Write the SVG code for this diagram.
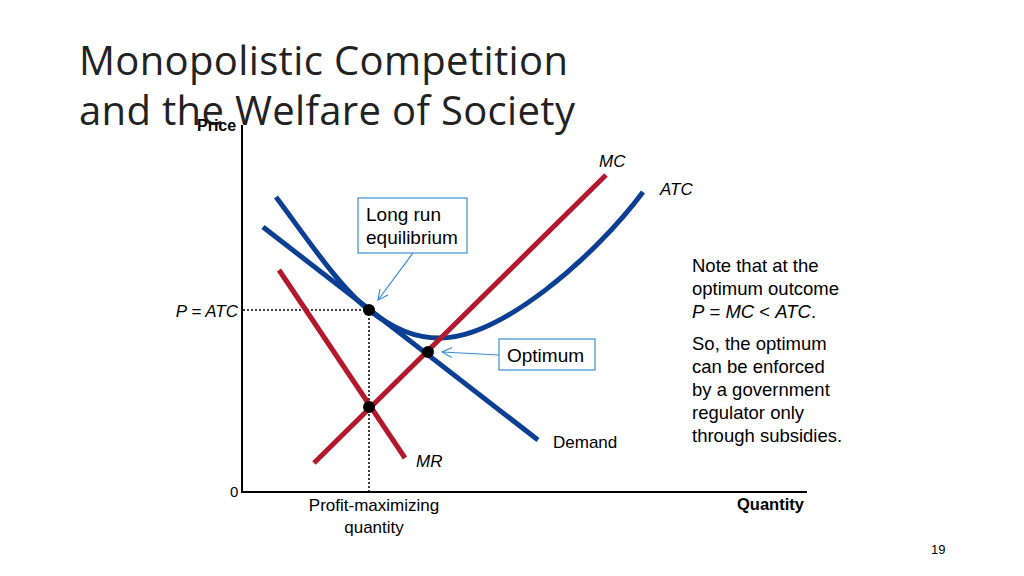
<svg xmlns="http://www.w3.org/2000/svg" width="1024" height="576" viewBox="0 0 1024 576">
<style>
.t{font-family:"Liberation Sans",Arial,sans-serif;fill:#000}
.i{font-style:italic}
.b{font-weight:bold}
.title{font-family:"Open Sans","Noto Sans",sans-serif;font-size:40px;fill:#222}
.blue{fill:none;stroke:#0b3f94;stroke-width:5;stroke-linecap:butt}
.red{fill:none;stroke:#b3182c;stroke-width:5}
.dot{stroke:#000;stroke-width:1.5;stroke-dasharray:2 2;fill:none}
.call{fill:#fff;stroke:#4a98d4;stroke-width:1.3}
.carr{stroke:#3a8ad0;stroke-width:1.2;fill:none}
.n{font-size:18.5px}
</style>
<defs>
<marker id="open" viewBox="0 0 12 12" refX="11" refY="6" markerWidth="12" markerHeight="12" markerUnits="userSpaceOnUse" orient="auto">
<path d="M1,1 L11,6 L1,11" fill="none" stroke="#3a8ad0" stroke-width="1.2"/>
</marker>
</defs>
<rect width="1024" height="576" fill="#fff"/>
<g id="title">
<text class="title" x="79" y="75" textLength="489">Monopolistic Competition</text>
<text class="title" x="79" y="125" textLength="496">and the Welfare of Society</text>
</g>
<g id="axes">
<line x1="242" y1="125" x2="242" y2="493" stroke="#000" stroke-width="2"/>
<line x1="241" y1="492" x2="807" y2="492" stroke="#000" stroke-width="2"/>
<text class="t b" x="197" y="131" font-size="16">Price</text>
<text class="t" x="230" y="497" font-size="15">0</text>
<text class="t b" x="737" y="510" font-size="16.5">Quantity</text>
<text class="t" x="374" y="511" font-size="17" text-anchor="middle">Profit-maximizing</text>
<text class="t" x="374" y="533" font-size="17" text-anchor="middle">quantity</text>
<text class="t i" x="238" y="317" font-size="17" text-anchor="end">P = ATC</text>
</g>
<g id="guides">
<line class="dot" x1="243" y1="310" x2="369" y2="310"/>
<line class="dot" x1="369" y1="310" x2="369" y2="491"/>
</g>
<g id="connectors">
<line class="carr" x1="413" y1="253" x2="378" y2="300" marker-end="url(#open)"/>
<line class="carr" x1="499" y1="355" x2="442" y2="352" marker-end="url(#open)"/>
</g>
<g id="demand">
<line class="blue" x1="263" y1="227" x2="538" y2="440"/>
<text class="t" x="553" y="448" font-size="17">Demand</text>
</g>
<g id="atc">
<path class="blue" d="M276,197 C306,237 339,286.8 369,310 C394,329.4 415,338 440,338 C500,338 593,259 643,192"/>
<text class="t i" x="660" y="195" font-size="17">ATC</text>
</g>
<g id="mc">
<line class="red" x1="314" y1="463" x2="606" y2="175"/>
<text class="t i" x="599" y="167" font-size="17">MC</text>
</g>
<g id="mr">
<line class="red" x1="279" y1="270" x2="405" y2="458"/>
<text class="t i" x="416" y="467" font-size="17">MR</text>
</g>
<g id="points">
<circle cx="369" cy="310" r="6" fill="#000"/>
<circle cx="428" cy="352" r="6" fill="#000"/>
<circle cx="369" cy="407" r="6" fill="#000"/>
</g>
<g id="longrun">
<rect class="call" x="358" y="198" width="109" height="55"/>
<text class="t" x="366" y="221" font-size="19">Long run</text>
<text class="t" x="366" y="244" font-size="19">equilibrium</text>
</g>
<g id="optimum">
<rect class="call" x="499" y="339" width="96" height="31"/>
<text class="t" x="507" y="362" font-size="19">Optimum</text>
</g>
<g id="note">
<text class="t n" x="692" y="272">Note that at the</text>
<text class="t n" x="692" y="295">optimum outcome</text>
<text class="t n" x="692" y="318"><tspan class="i">P</tspan> = <tspan class="i">MC</tspan> &lt; <tspan class="i">ATC</tspan>.</text>
<text class="t n" x="692" y="350">So, the optimum</text>
<text class="t n" x="692" y="373">can be enforced</text>
<text class="t n" x="692" y="396">by a government</text>
<text class="t n" x="692" y="419">regulator only</text>
<text class="t n" x="692" y="442">through subsidies.</text>
</g>
<text class="t" x="931" y="554" font-size="13" fill="#444">19</text>
</svg>
